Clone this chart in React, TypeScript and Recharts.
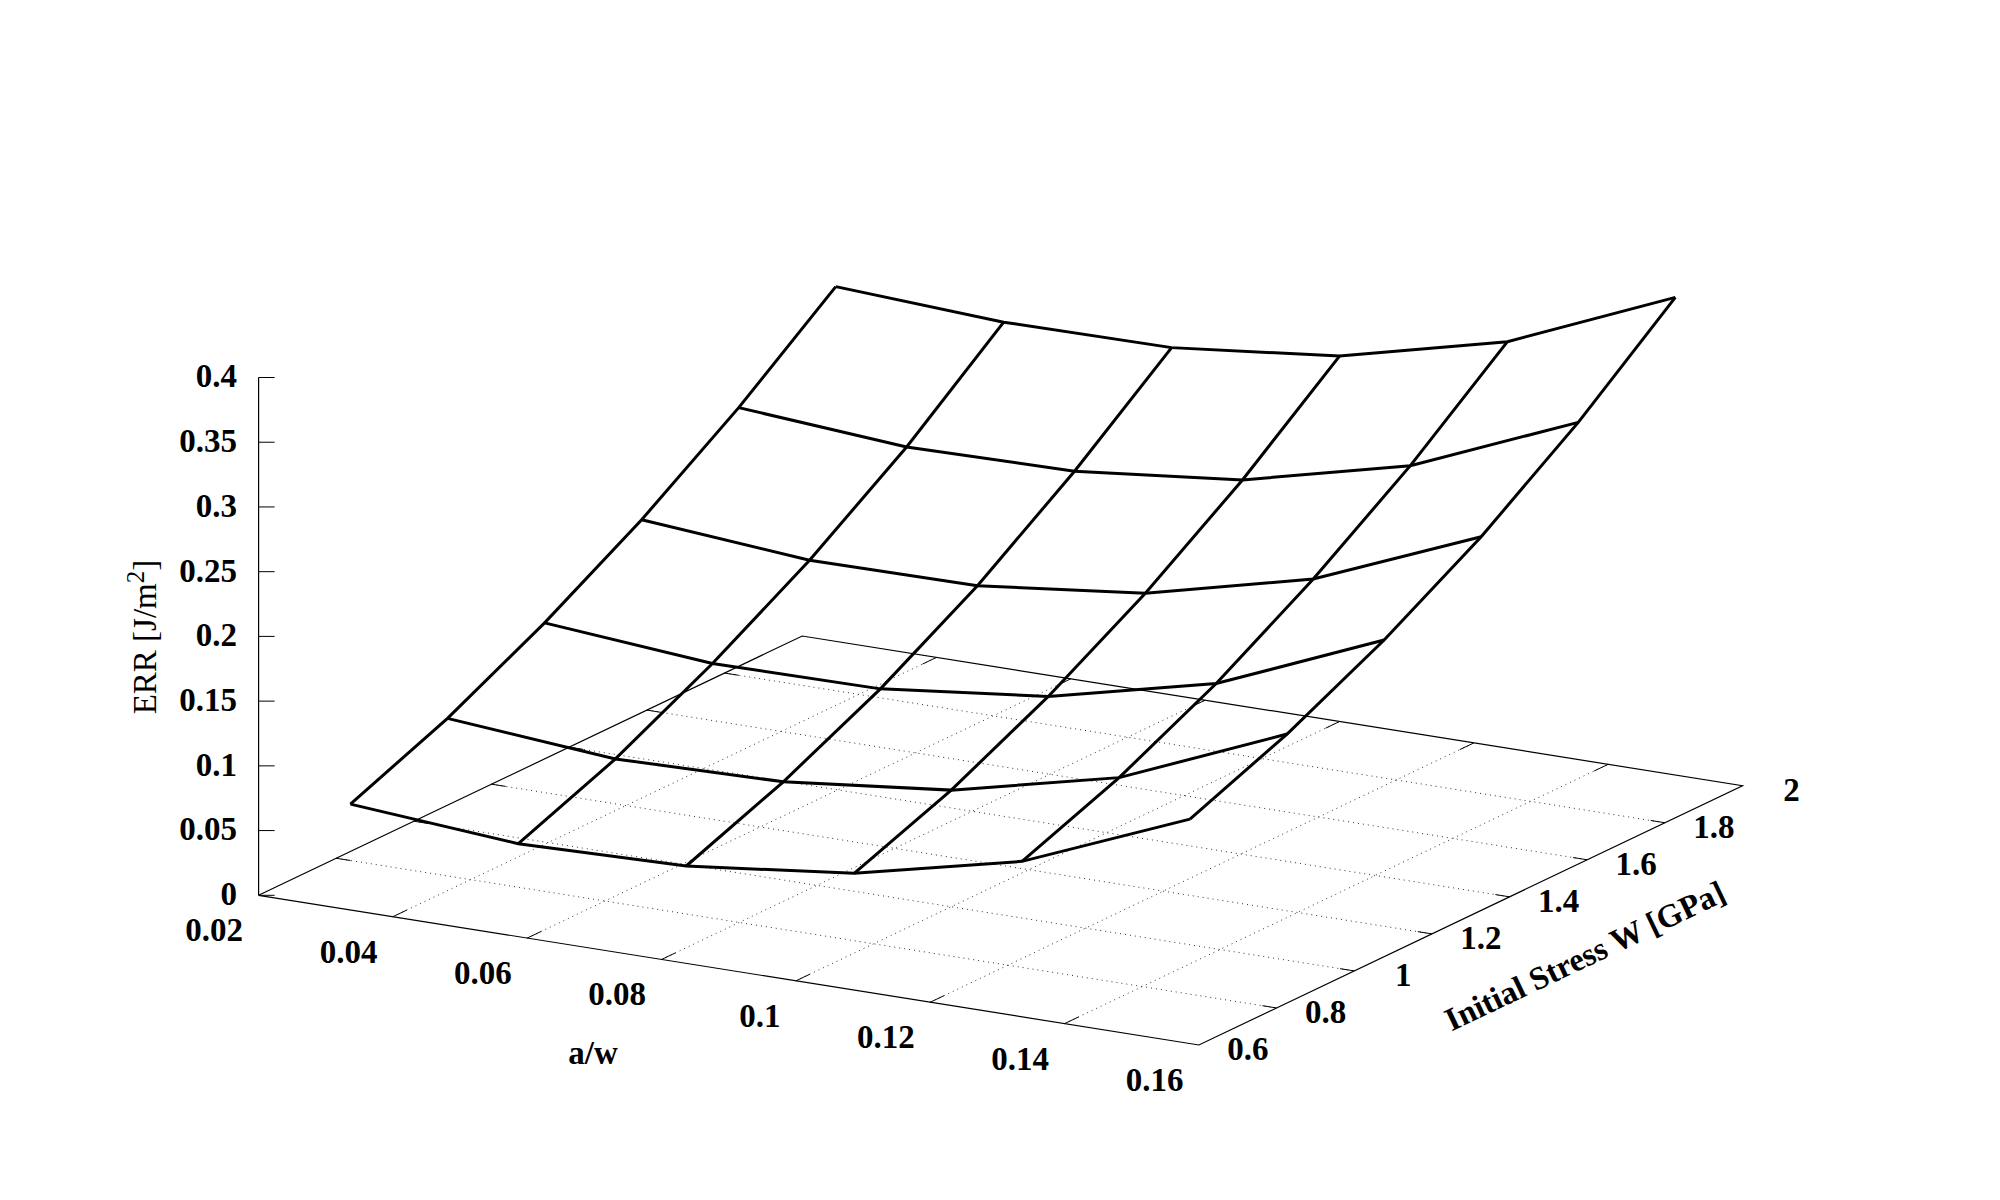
import { ScatterChart, Scatter, XAxis, YAxis } from 'recharts';

const aValues = [0.025, 0.05, 0.075, 0.1, 0.125, 0.15];
const stressValues = [0.75, 1.0, 1.25, 1.5, 1.75, 2.0];

// ERR per row of constant initial stress
const errAt075 = [0.0531, 0.0432, 0.0466, 0.0616, 0.0915, 0.1448];
const errAt100 = [0.0836, 0.0729, 0.0759, 0.0901, 0.1204, 0.1747];
const errAt125 = [0.1216, 0.1108, 0.1119, 0.1267, 0.1573, 0.2116];
const errAt150 = [0.1655, 0.1548, 0.1558, 0.1706, 0.2023, 0.2556];
const errAt175 = [0.2163, 0.2066, 0.2085, 0.2224, 0.2541, 0.3082];
const errAt200 = [0.274, 0.2672, 0.2682, 0.2823, 0.3141, 0.369];
const errRows = [errAt075, errAt100, errAt125, errAt150, errAt175, errAt200];

const aTicks = [0.02, 0.04, 0.06, 0.08, 0.1, 0.12, 0.14, 0.16];
const stressTicks = [0.6, 0.8, 1, 1.2, 1.4, 1.6, 1.8, 2];
const errTicks = [0, 0.05, 0.1, 0.15, 0.2, 0.25, 0.3, 0.35, 0.4];

const A_MIN = 0.02, A_MAX = 0.16, S_MIN = 0.6, S_MAX = 2, Z_MAX = 0.4;

// gnuplot-like oblique view: data space -> page
function project(a: number, s: number, z = 0) {
  const u = (a - A_MIN) / (A_MAX - A_MIN);
  const v = (s - S_MIN) / (S_MAX - S_MIN);
  return {
    x: 258.6 + u * 940.3 + v * 543.6,
    y: 895.3 + u * 149.7 - v * 259.3 - (z / Z_MAX) * 517.8,
  };
}

const FONT = '"Liberation Serif", serif';
const FONT_SIZE = 33;

type Seg = { x: number; y: number }[];

const frame: Seg[] = [
  [project(A_MIN, S_MIN), project(A_MAX, S_MIN), project(A_MAX, S_MAX), project(A_MIN, S_MAX), project(A_MIN, S_MIN)],
  [project(A_MIN, S_MIN, 0), project(A_MIN, S_MIN, Z_MAX)],
];

const A_TIC = 0.0021; // a/w units of the short tick along the a edge
const S_TIC = 0.036; // stress units of the short tick along the stress edge

const innerA = aTicks.slice(1, -1);
const innerS = stressTicks.slice(1, -1);

const solidTicks: Seg[] = [
  ...innerA.flatMap((a) => [
    [project(a, S_MIN), project(a, S_MIN + S_TIC)],
    [project(a, S_MAX), project(a, S_MAX - S_TIC)],
  ]),
  ...innerS.flatMap((s) => [
    [project(A_MIN, s), project(A_MIN + A_TIC, s)],
    [project(A_MAX, s), project(A_MAX - A_TIC, s)],
  ]),
  ...errTicks.map((z) => {
    const p = project(A_MIN, S_MIN, z);
    return [p, { x: p.x + 16, y: p.y }];
  }),
];

const gridLines: Seg[] = [
  ...innerA.map((a) => [project(a, S_MIN), project(a, S_MAX)]),
  ...innerS.map((s) => [project(A_MIN, s), project(A_MAX, s)]),
];

const surfaceRows: Seg[] = errRows.map((row, j) => row.map((z, i) => project(aValues[i], stressValues[j], z)));
const surfaceCols: Seg[] = aValues.map((a, i) => errRows.map((row, j) => project(a, stressValues[j], row[i])));

const offset = (p: { x: number; y: number }, dx: number, dy: number) => ({ x: p.x + dx, y: p.y + dy });

// a/w labels are right aligned in the reference, that's why 0.1 sits off centre
const aLabels = aTicks.map((a) => ({ ...offset(project(a, S_MIN), -15.5, 35), label: String(a), anchor: 'end' }));
const sLabels = stressTicks.map((s) => ({ ...offset(project(A_MAX, s), 49, 4), label: String(s), anchor: 'middle' }));
const zLabels = errTicks.map((z) => ({ ...offset(project(A_MIN, S_MIN, z), -21.5, -1), label: String(z), anchor: 'end' }));
const labels = [...aLabels, ...sLabels, ...zLabels];

function TickText(props: any) {
  const { cx, cy, payload } = props;
  return (
    <text x={cx} y={cy} dy="0.33em" textAnchor={payload.anchor} fontFamily={FONT} fontWeight="bold" fontSize={FONT_SIZE} fill="#000">
      {payload.label}
    </text>
  );
}

const noDot = () => <g />;

const titleA = [{ x: 593, y: 1053.5 }];
const titleS = [{ x: 1585, y: 956 }];
const titleZ = [{ x: 145, y: 637 }];

export default function App() {
  return (
    <div style={{ position: 'absolute', left: 0, top: 0, width: 2000, height: 1200, background: '#fff' }}>
      <ScatterChart width={2000} height={1200} margin={{ top: 0, right: 0, bottom: 0, left: 0 }}>
        <XAxis type="number" dataKey="x" domain={[0, 2000]} hide />
        <YAxis type="number" dataKey="y" domain={[0, 1200]} reversed hide />
        {gridLines.map((seg, i) => (
          <Scatter key={`g${i}`} data={seg} isAnimationActive={false} shape={noDot}
            line={{ stroke: '#333', strokeWidth: 1, strokeDasharray: '1 4' }} />
        ))}
        {frame.map((seg, i) => (
          <Scatter key={`f${i}`} data={seg} isAnimationActive={false} shape={noDot}
            line={{ stroke: '#000', strokeWidth: 1.2 }} />
        ))}
        {solidTicks.map((seg, i) => (
          <Scatter key={`t${i}`} data={seg} isAnimationActive={false} shape={noDot}
            line={{ stroke: '#000', strokeWidth: 1 }} />
        ))}
        {[...surfaceRows, ...surfaceCols].map((seg, i) => (
          <Scatter key={`s${i}`} data={seg} isAnimationActive={false} shape={noDot}
            line={{ stroke: '#000', strokeWidth: 3 }} />
        ))}
        <Scatter data={labels} isAnimationActive={false} shape={TickText} />
        <Scatter data={titleA} isAnimationActive={false} shape={(p: any) => (
          <text x={p.cx} y={p.cy} dy="0.33em" textAnchor="middle" fontFamily={FONT} fontWeight="bold" fontSize={FONT_SIZE}>a/w</text>
        )} />
        <Scatter data={titleS} isAnimationActive={false} shape={(p: any) => (
          <text x={p.cx} y={p.cy} dy="0.33em" textAnchor="middle" fontFamily={FONT} fontWeight="bold" fontSize={32.5}
            transform={`rotate(-25.5 ${p.cx} ${p.cy})`}>Initial Stress W [GPa]</text>
        )} />
        <Scatter data={titleZ} isAnimationActive={false} shape={(p: any) => (
          <text x={p.cx} y={p.cy} dy="0.33em" textAnchor="middle" fontFamily={FONT} fontSize={FONT_SIZE}
            transform={`rotate(-90 ${p.cx} ${p.cy})`}>
            ERR [J/m<tspan dy="-12" fontSize={25}>2</tspan><tspan dy="12">]</tspan>
          </text>
        )} />
      </ScatterChart>
    </div>
  );
}
